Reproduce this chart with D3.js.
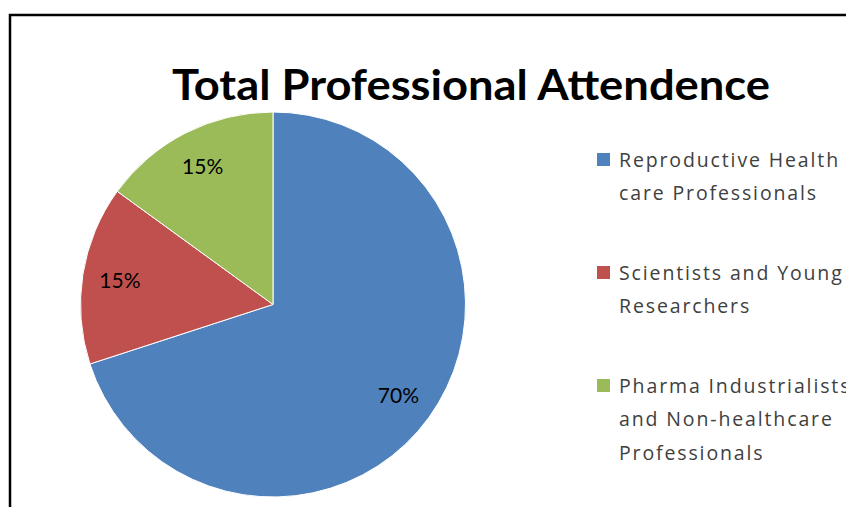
<!DOCTYPE html>
<html><head><meta charset="utf-8">
<script src="https://cdn.jsdelivr.net/npm/d3@7"></script>
<style>body{margin:0;background:#fff;overflow:hidden}svg{display:block}</style>
</head><body>
<script>
const categories = ["Reproductive Health care Professionals", "Scientists and Young Researchers", "Pharma Industrialists and Non-healthcare Professionals"];
const legendLines = [["Reproductive Health", "care Professionals"], ["Scientists and Young", "Researchers"], ["Pharma Industrialists", "and Non-healthcare", "Professionals"]];
const values = [70, 15, 15];
const colors = ["#4F81BD", "#C0504D", "#9BBB59"];
const title = "Total Professional Attendence";

const W = 846, H = 507;
const svg = d3.select("body").append("svg").attr("width", W).attr("height", H);

// frame
svg.append("rect").attr("x", 10).attr("y", 15).attr("width", 900).attr("height", 600)
  .attr("fill", "#fff").attr("stroke", "#000").attr("stroke-width", 2.5);

// title
svg.append("text").attr("x", 471).attr("y", 100).attr("text-anchor", "middle")
  .attr("font-family", "Lato, 'Open Sans', sans-serif").attr("font-weight", "bold")
  .attr("font-size", 42).attr("fill", "#000")
  .attr("textLength", 598).attr("lengthAdjust", "spacingAndGlyphs")
  .text(title);

const cx = 273, cy = 304.5, r = 192.5;
const pie = d3.pie().sort(null).value(d => d)(values);
const arc = d3.arc().innerRadius(0).outerRadius(r);
const labelArc = d3.arc().innerRadius(155).outerRadius(155);
const total = d3.sum(values);

const g = svg.append("g").attr("transform", `translate(${cx},${cy})`);
g.selectAll("path").data(pie).join("path")
  .attr("d", arc).attr("fill", (d, i) => colors[i])
  .attr("stroke", "#fff").attr("stroke-width", 1);

g.selectAll("text.pct").data(pie).join("text").attr("class", "pct")
  .attr("transform", d => `translate(${labelArc.centroid(d)})`)
  .attr("text-anchor", "middle").attr("dy", "0.35em")
  .attr("font-family", "Lato, 'Open Sans', sans-serif").attr("font-size", 21)
  .attr("fill", "#000")
  .text(d => Math.round(d.value / total * 100) + "%");

// legend
const legendFont = "'Open Sans', Lato, sans-serif", legendSize = 19.5;
const probe = svg.append("text").attr("font-family", legendFont).attr("font-size", legendSize).text(legendLines[0][1]);
const w0 = probe.node().getComputedTextLength();
probe.remove();
const ls = Math.max(0, (199 - w0) / legendLines[0][1].length);

const legendY = [160, 273, 386];
const lg = svg.append("g");
categories.forEach((c, i) => {
  lg.append("rect").attr("x", 597).attr("y", legendY[i] - 7).attr("width", 13).attr("height", 13)
    .attr("fill", colors[i]);
  legendLines[i].forEach((line, j) => {
    lg.append("text").attr("x", 619).attr("y", legendY[i] + j * 33.5).attr("dy", "0.35em")
      .attr("font-family", legendFont).attr("font-size", legendSize)
      .attr("letter-spacing", ls).attr("fill", "#404040").text(line);
  });
});
</script>
</body></html>
